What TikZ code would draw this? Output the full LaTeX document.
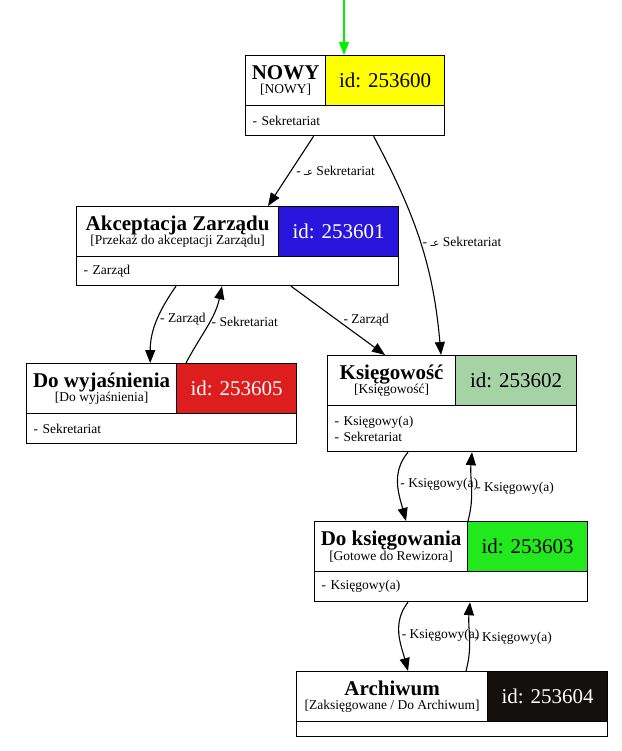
\documentclass[tikz,border=0pt]{standalone}
\usepackage{fontspec}
\setmainfont{Liberation Serif}
\newfontfamily\arabicfont[Script=Arabic]{DejaVu Sans}
\TeXXeTstate=1
\usetikzlibrary{arrows.meta}
\definecolor{stYellow}{RGB}{255,255,0}
\definecolor{stBlue}{RGB}{40,22,220}
\definecolor{stRed}{RGB}{222,30,30}
\definecolor{stSage}{RGB}{166,211,166}
\definecolor{stGreen}{RGB}{34,232,30}
\definecolor{stBlack}{RGB}{20,16,16}
\definecolor{startGreen}{RGB}{0,240,0}
\newcommand{\stname}[2]{{\fontsize{21}{21}\selectfont\bfseries #1}\\{\fontsize{13.5}{14}\selectfont #2}}
\newcommand{\arsign}{{\arabicfont\fontsize{10}{10}\selectfont\beginR عـ\endR}}

\begin{document}
\begin{tikzpicture}[x=1pt,y=-1pt]
		\tikzset{
			hdbox/.style={draw,line width=1.2pt,anchor=north west,minimum height=50,inner sep=0,align=center,font=\fontsize{13.5}{14.5}\selectfont},
			idbox/.style={draw,line width=1.2pt,anchor=north west,minimum height=50,inner sep=0,font=\fontsize{21}{21}\selectfont},
			rolebox/.style={draw,line width=1.2pt,anchor=north west,inner xsep=7,inner ysep=0,align=left,font=\fontsize{13.5}{16}\selectfont},
			flow/.style={line width=1.1pt,-{Triangle[length=13pt,width=10pt]}},
			flowlbl/.style={anchor=west,inner sep=2pt,font=\fontsize{13.5}{14}\selectfont}
		}
		\path[use as bounding box] (0,0) rectangle (621,751);
		
		% States
		\node[hdbox,minimum width=80] (nowy-hd) at (245,55) {\stname{NOWY}{[NOWY]}};
		\node[idbox,fill=stYellow,minimum width=119] (nowy-id) at (325,55) {id: 253600};
		\node[rolebox,text width=185,minimum height=30] (nowy-body) at (245,105) {- Sekretariat};
		
		\node[hdbox,minimum width=202] (akc-hd) at (76,206) {\stname{Akceptacja Zarządu}{[Przekaż do akceptacji Zarządu]}};
		\node[idbox,fill=stBlue,text=white,minimum width=120] (akc-id) at (278,206) {id: 253601};
		\node[rolebox,text width=308,minimum height=29] (akc-body) at (76,256) {- Zarząd};
		
		\node[hdbox,minimum width=150] (dw-hd) at (26,363) {\stname{Do wyjaśnienia}{[Do wyjaśnienia]}};
		\node[idbox,fill=stRed,text=white,minimum width=120] (dw-id) at (176,363) {id: 253605};
		\node[rolebox,text width=256,minimum height=30] (dw-body) at (26,413) {- Sekretariat};
		
		\node[hdbox,minimum width=128] (ks-hd) at (327,355) {\stname{Księgowość}{[Księgowość]}};
		\node[idbox,fill=stSage,minimum width=121] (ks-id) at (455,355) {id: 253602};
		\node[rolebox,text width=235,minimum height=46] (ks-body) at (327,405) {- Księgowy(a)\\- Sekretariat};
		
		\node[hdbox,minimum width=153] (dk-hd) at (314,521) {\stname{Do księgowania}{[Gotowe do Rewizora]}};
		\node[idbox,fill=stGreen,minimum width=120] (dk-id) at (467,521) {id: 253603};
		\node[rolebox,text width=259,minimum height=30] (dk-body) at (314,571) {- Księgowy(a)};
		
		\node[hdbox,minimum width=191] (ar-hd) at (296,671) {\stname{Archiwum}{[Zaksięgowane / Do Archiwum]}};
		\node[idbox,fill=stBlack,text=white,minimum width=120] (ar-id) at (487,671) {id: 253604};
		\node[rolebox,text width=297,minimum height=15] (ar-body) at (296,721) {};
		
		% Start
		\coordinate (start) at (344,0);
		\draw[flow,draw=startGreen,-{Triangle[length=13pt,width=10pt,fill=startGreen]}] (start) -- ([xshift=19]nowy-id.north west);
		
		% Transitions
		\draw[flow] ([xshift=-31.5]nowy-body.south) -- node[flowlbl,xshift=3]{- \arsign\ Sekretariat} ([xshift=-10]akc-id.north west);
		\draw[flow] ([xshift=28.5]nowy-body.south) to[out=-62,in=95] node[flowlbl]{- \arsign\ Sekretariat} ([xshift=-14]ks-id.north west);
		\draw[flow] ([xshift=100]akc-body.south west) to[out=-125,in=90] node[flowlbl,pos=0.45]{- Zarząd} ([xshift=-27]dw-hd.north east);
		\draw[flow] ([xshift=10]dw-id.north west) to[out=62,in=-102] node[flowlbl,pos=0.55]{- Sekretariat} ([xshift=146]akc-body.south west);
		\draw[flow] ([xshift=215]akc-body.south west) -- node[flowlbl,xshift=3]{- Zarząd} ([xshift=58]ks-hd.north west);
		\draw[flow] ([xshift=81]ks-body.south west) to[out=-130,in=105] node[flowlbl,pos=0.5]{- Księgowy(a)} ([xshift=92]dk-hd.north west);
		\draw[flow] ([xshift=1]dk-id.north west) to[out=75,in=-95] node[flowlbl,xshift=2,pos=0.48]{- Księgowy(a)} ([xshift=145]ks-body.south west);
		\draw[flow] ([xshift=94]dk-body.south west) to[out=-128,in=105] node[flowlbl,pos=0.5]{- Księgowy(a)} ([xshift=112]ar-hd.north west);
		\draw[flow] ([xshift=170]ar-hd.north west) to[out=75,in=-95] node[flowlbl,xshift=2,pos=0.48]{- Księgowy(a)} ([xshift=156]dk-body.south west);
	\end{tikzpicture}
\end{document}
